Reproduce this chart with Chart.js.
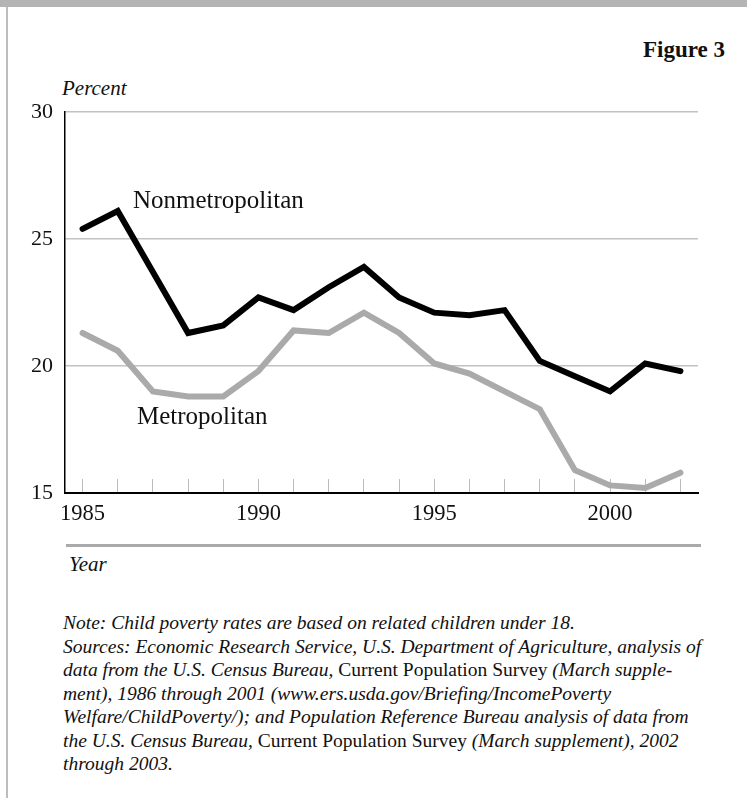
<!DOCTYPE html>
<html>
<head>
<meta charset="utf-8">
<script src="https://cdn.jsdelivr.net/npm/chart.js@4"></script>
<style>
  html, body { margin: 0; padding: 0; background: #fff; }
  body { width: 747px; height: 798px; position: relative; overflow: hidden; font-family: "Liberation Serif", "Times New Roman", serif; color: #111; }
  #topband { position: absolute; left: 0; top: 0; width: 747px; height: 7px; background: #b4b4b4; }
  #leftline { position: absolute; left: 6px; top: 7px; width: 2px; height: 791px; background: #bdbdbd; }
  #fig { position: absolute; right: 22px; top: 38px; font-size: 23px; font-weight: bold; line-height: 23px; }
  #pct { position: absolute; left: 62px; top: 78px; font-size: 21px; font-style: italic; line-height: 21px; }
  #chartwrap { position: absolute; left: 0; top: 0; width: 747px; height: 540px; }
  .slabel { position: absolute; font-size: 25px; line-height: 25px; white-space: nowrap; }
  #sep { position: absolute; left: 66px; top: 544px; width: 635px; height: 3px; background: #aaaaaa; }
  #year { position: absolute; left: 69px; top: 554px; font-size: 21px; font-style: italic; line-height: 21px; }
  #note { position: absolute; left: 63px; top: 611px; font-size: 19.5px; line-height: 23.5px; font-style: italic; white-space: nowrap; }
  #note .r { font-style: normal; }
</style>
</head>
<body>
<div id="topband"></div>
<div id="leftline"></div>
<div id="fig">Figure 3</div>
<div id="pct">Percent</div>
<div id="chartwrap"><canvas id="c" width="747" height="540"></canvas></div>
<div class="slabel" id="lblNon" style="left:133px; top:187px;">Nonmetropolitan</div>
<div class="slabel" id="lblMet" style="left:137px; top:403px;">Metropolitan</div>
<div id="sep"></div>
<div id="year">Year</div>
<div id="note">
<div>Note: Child poverty rates are based on related children under 18.</div>
<div>Sources: Economic Research Service, U.S. Department of Agriculture, analysis of</div>
<div>data from the U.S. Census Bureau, <span class="r">Current Population Survey</span> (March supple-</div>
<div>ment), 1986 through 2001 (www.ers.usda.gov/Briefing/IncomePoverty</div>
<div>Welfare/ChildPoverty/); and Population Reference Bureau analysis of data from</div>
<div>the U.S. Census Bureau, <span class="r">Current Population Survey</span> (March supplement), 2002</div>
<div>through 2003.</div>
</div>
<script>
const years = [1985,1986,1987,1988,1989,1990,1991,1992,1993,1994,1995,1996,1997,1998,1999,2000,2001,2002];
const nonmetro = [25.4,26.1,23.7,21.3,21.6,22.7,22.2,23.1,23.9,22.7,22.1,22.0,22.2,20.2,19.6,19.0,20.1,19.8];
const metro = [21.3,20.6,19.0,18.8,18.8,19.8,21.4,21.3,22.1,21.3,20.1,19.7,19.0,18.3,15.9,15.3,15.2,15.8];
const xTickLabels = [1985,1990,1995,2000];
const yMin = 15, yMax = 30, yStep = 5;

new Chart(document.getElementById('c'), {
  type: 'line',
  data: {
    labels: years.map(String),
    datasets: [
      { label: 'Metropolitan', data: metro, borderColor: '#aaaaaa', borderWidth: 6, pointRadius: 0, tension: 0, fill: false, borderJoinStyle: 'miter', borderCapStyle: 'round' },
      { label: 'Nonmetropolitan', data: nonmetro, borderColor: '#000000', borderWidth: 6, pointRadius: 0, tension: 0, fill: false, borderJoinStyle: 'miter', borderCapStyle: 'round' }
    ]
  },
  options: {
    responsive: false,
    animation: false,
    devicePixelRatio: 1,
    layout: { padding: { top: 112, left: 0, right: 49, bottom: 0 } },
    plugins: { legend: { display: false }, tooltip: { enabled: false } },
    scales: {
      x: {
        type: 'category',
        offset: true,
        afterFit: s => { s.height = 47; },
        grid: { display: true, drawOnChartArea: false, drawTicks: true, tickLength: -14, color: '#bbbbbb', lineWidth: 1, offset: false },
        border: { display: true, color: '#000000', width: 2 },
        ticks: {
          autoSkip: false, maxRotation: 0, minRotation: 0, padding: 22,
          color: '#111', font: { family: 'Liberation Serif', size: 22.5 },
          callback: function(val, idx) { const y = years[idx]; return xTickLabels.includes(y) ? String(y) : ''; }
        }
      },
      y: {
        min: yMin, max: yMax,
        afterFit: s => { s.width = 65; },
        grid: { drawTicks: false, color: ctx => (ctx.tick && ctx.tick.value === yMin) ? 'rgba(0,0,0,0)' : '#c2c2c2', lineWidth: 1.5 },
        border: { display: true, color: '#000000', width: 1.5 },
        ticks: { stepSize: yStep, padding: 12, color: '#111', font: { family: 'Liberation Serif', size: 22 } }
      }
    }
  }
});
</script>
</body>
</html>
